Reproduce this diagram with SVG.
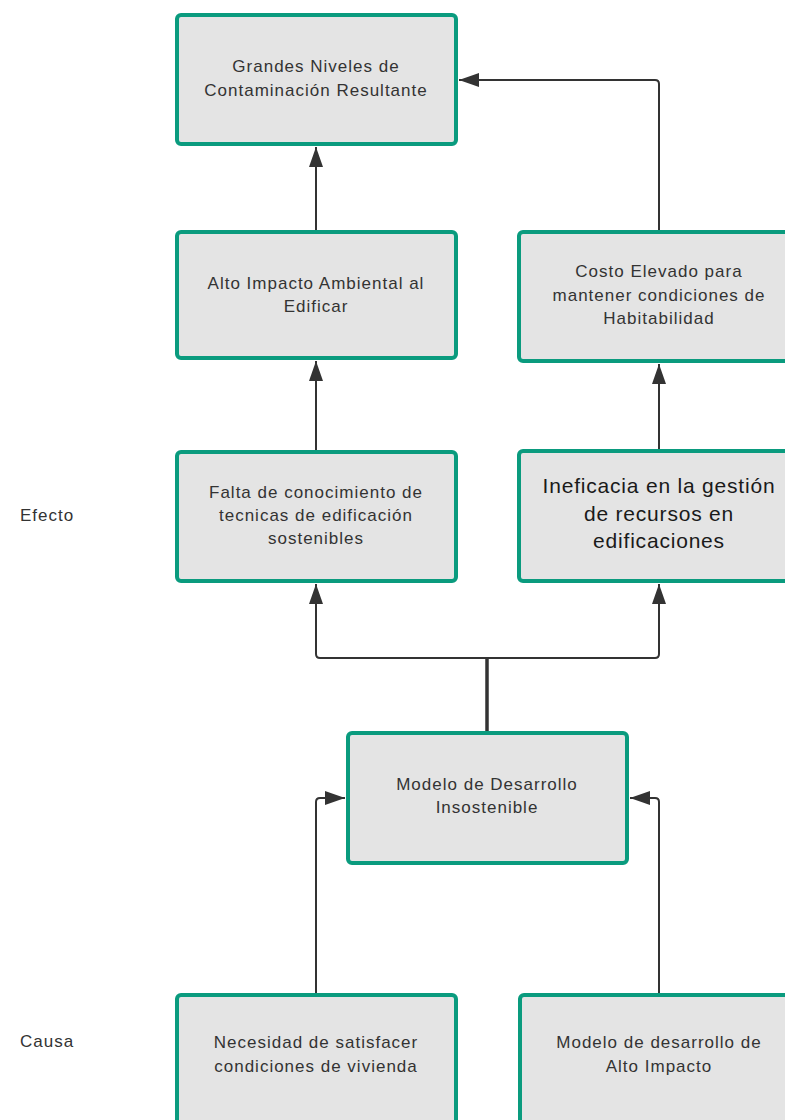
<svg xmlns="http://www.w3.org/2000/svg" width="785" height="1120" viewBox="0 0 785 1120">
<style>
.box{fill:#e4e4e4;stroke:#0a9b7e;stroke-width:4}
.t{font-family:"Liberation Sans",Arial,sans-serif;font-size:17px;letter-spacing:1px;fill:#333333;text-anchor:middle}
.big{font-size:21px;letter-spacing:0.8px;fill:#1a1a1a}
.lbl{font-family:"Liberation Sans",Arial,sans-serif;font-size:17px;letter-spacing:1px;fill:#333333}
.c{fill:none;stroke:#333333;stroke-width:2;stroke-linejoin:round}
</style>
<defs>
<marker id="ah" viewBox="0 0 20 14" refX="20" refY="7" markerWidth="20" markerHeight="14" markerUnits="userSpaceOnUse" orient="auto">
<path d="M0,0 L20,7 L0,14 Z" fill="#333333"/>
</marker>
</defs>
<rect width="785" height="1120" fill="#ffffff"/>
<text class="lbl" x="20" y="521">Efecto</text>
<text class="lbl" x="20" y="1047">Causa</text>
<g id="connectors">
<path class="c" d="M316,231 V147" marker-end="url(#ah)"/>
<path class="c" d="M659,231 V84 Q659,80 655,80 H459" marker-end="url(#ah)"/>
<path class="c" d="M316,451 V361" marker-end="url(#ah)"/>
<path class="c" d="M659,450 V364" marker-end="url(#ah)"/>
<path class="c" d="M487,658 H320 Q316,658 316,654 V584" marker-end="url(#ah)"/>
<path class="c" d="M487,658 H655 Q659,658 659,654 V584" marker-end="url(#ah)"/>
<path class="c" style="stroke-width:3.5" d="M487,732 V658"/>
<path class="c" d="M316,994 V802 Q316,798 320,798 H345" marker-end="url(#ah)"/>
<path class="c" d="M659,994 V802 Q659,798 655,798 H630" marker-end="url(#ah)"/>
</g>
<g id="n1"><rect class="box" x="177" y="15" width="279" height="129" rx="4"/>
<text class="t" x="316" y="72">Grandes Niveles de</text><text class="t" x="316" y="96">Contaminación Resultante</text></g>
<g id="n2"><rect class="box" x="177" y="232" width="279" height="126" rx="4"/>
<text class="t" x="316" y="289">Alto Impacto Ambiental al</text><text class="t" x="316" y="312">Edificar</text></g>
<g id="n3"><rect class="box" x="519" y="232" width="280" height="129" rx="4"/>
<text class="t" x="659" y="277">Costo Elevado para</text><text class="t" x="659" y="301">mantener condiciones de</text><text class="t" x="659" y="324">Habitabilidad</text></g>
<g id="n4"><rect class="box" x="177" y="452" width="279" height="129" rx="4"/>
<text class="t" x="316" y="498">Falta de conocimiento de</text><text class="t" x="316" y="521">tecnicas de edificación</text><text class="t" x="316" y="544">sostenibles</text></g>
<g id="n5"><rect class="box" x="519" y="451" width="280" height="130" rx="4"/>
<text class="t big" x="659" y="493">Ineficacia en la gestión</text><text class="t big" x="659" y="521">de recursos en</text><text class="t big" x="659" y="548">edificaciones</text></g>
<g id="n6"><rect class="box" x="348" y="733" width="279" height="130" rx="4"/>
<text class="t" x="487" y="790">Modelo de Desarrollo</text><text class="t" x="487" y="813">Insostenible</text></g>
<g id="n7"><rect class="box" x="177" y="995" width="279" height="135" rx="4"/>
<text class="t" x="316" y="1048">Necesidad de satisfacer</text><text class="t" x="316" y="1072">condiciones de vivienda</text></g>
<g id="n8"><rect class="box" x="520" y="995" width="280" height="135" rx="4"/>
<text class="t" x="659" y="1048">Modelo de desarrollo de</text><text class="t" x="659" y="1072">Alto Impacto</text></g>
</svg>
